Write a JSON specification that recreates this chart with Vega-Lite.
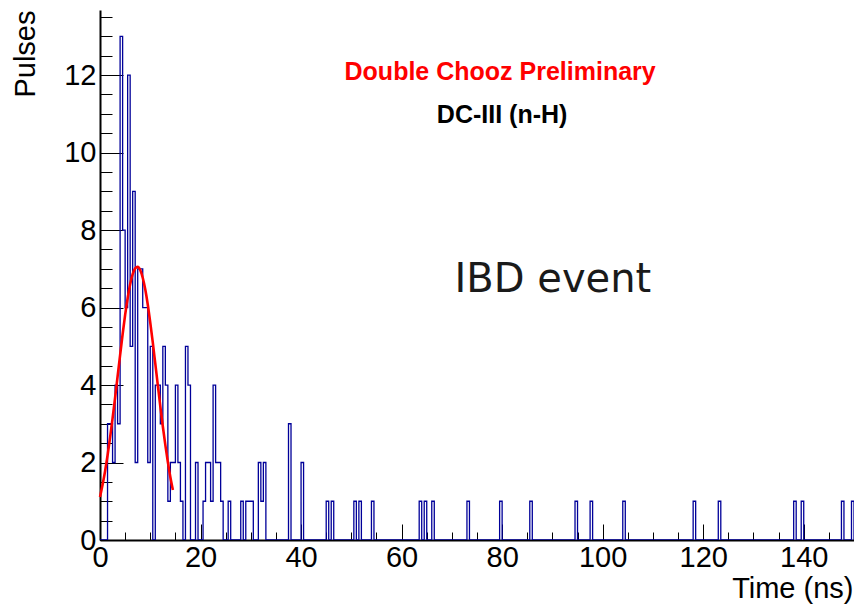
{
  "$schema": "https://vega.github.io/schema/vega-lite/v6.json",
  "width": 754,
  "height": 530,
  "autosize": {"type": "none"},
  "padding": {"left": 100, "top": 10, "right": 0, "bottom": 65},
  "background": "white",
  "config": {
    "view": {"stroke": null},
    "axis": {
      "grid": false,
      "labelFont": "Liberation Sans",
      "titleFont": "Liberation Sans",
      "labelColor": "black",
      "titleColor": "black",
      "domainColor": "black",
      "tickColor": "black",
      "tickWidth": 1,
      "titleFontWeight": "normal"
    }
  },
  "datasets": {
    "hist": [
      {"t":0,"n":0},{"t":0.5,"n":0},{"t":1,"n":0},{"t":1.5,"n":3},{"t":2,"n":3},{"t":2.5,"n":2},{"t":3,"n":4},{"t":3.5,"n":3},
      {"t":4,"n":13},{"t":4.5,"n":8},{"t":5,"n":6},{"t":5.5,"n":12},{"t":6,"n":5},{"t":6.5,"n":9},{"t":7,"n":2},{"t":7.5,"n":7},
      {"t":8,"n":7},{"t":8.5,"n":6},{"t":9,"n":6},{"t":9.5,"n":2},{"t":10,"n":5},{"t":10.5,"n":0},{"t":11,"n":4},{"t":11.5,"n":4},
      {"t":12,"n":3},{"t":12.5,"n":5},{"t":13,"n":4},{"t":13.5,"n":1},{"t":14,"n":2},{"t":14.5,"n":2},{"t":15,"n":4},{"t":15.5,"n":2},
      {"t":16,"n":1},{"t":16.5,"n":0},{"t":17,"n":5},{"t":17.5,"n":4},{"t":18,"n":0},{"t":18.5,"n":0},{"t":19,"n":2},{"t":19.5,"n":0},
      {"t":20,"n":0},{"t":20.5,"n":1},{"t":21,"n":2},{"t":21.5,"n":2},{"t":22,"n":1},{"t":22.5,"n":4},{"t":23,"n":2},{"t":23.5,"n":2},
      {"t":24,"n":1},{"t":24.5,"n":0},{"t":25,"n":0},{"t":25.5,"n":1},{"t":26,"n":0},{"t":26.5,"n":0},{"t":27,"n":0},{"t":27.5,"n":0},
      {"t":28,"n":1},{"t":28.5,"n":0},{"t":29,"n":1},{"t":29.5,"n":1},{"t":30,"n":1},{"t":30.5,"n":0},{"t":31,"n":0},{"t":31.5,"n":2},
      {"t":32,"n":1},{"t":32.5,"n":2},{"t":33,"n":0},{"t":33.5,"n":0},{"t":34,"n":0},{"t":34.5,"n":0},{"t":35,"n":0},{"t":35.5,"n":0},
      {"t":36,"n":0},{"t":36.5,"n":0},{"t":37,"n":0},{"t":37.5,"n":3},{"t":38,"n":0},{"t":38.5,"n":0},{"t":39,"n":0},{"t":39.5,"n":0},
      {"t":40,"n":2},{"t":40.5,"n":0},{"t":41,"n":0},{"t":41.5,"n":0},{"t":42,"n":0},{"t":42.5,"n":0},{"t":43,"n":0},{"t":43.5,"n":0},
      {"t":44,"n":0},{"t":44.5,"n":0},{"t":45,"n":1},{"t":45.5,"n":0},{"t":46,"n":1},{"t":46.5,"n":0},{"t":47,"n":0},{"t":47.5,"n":0},
      {"t":48,"n":0},{"t":48.5,"n":0},{"t":49,"n":0},{"t":49.5,"n":0},{"t":50,"n":0},{"t":50.5,"n":1},{"t":51,"n":0},{"t":51.5,"n":1},
      {"t":52,"n":0},{"t":52.5,"n":0},{"t":53,"n":0},{"t":53.5,"n":0},{"t":54,"n":1},{"t":54.5,"n":0},{"t":55,"n":0},{"t":55.5,"n":0},
      {"t":56,"n":0},{"t":56.5,"n":0},{"t":57,"n":0},{"t":57.5,"n":0},{"t":58,"n":0},{"t":58.5,"n":0},{"t":59,"n":0},{"t":59.5,"n":0},
      {"t":60,"n":0},{"t":60.5,"n":0},{"t":61,"n":0},{"t":61.5,"n":0},{"t":62,"n":0},{"t":62.5,"n":0},{"t":63,"n":0},{"t":63.5,"n":1},
      {"t":64,"n":0},{"t":64.5,"n":1},{"t":65,"n":0},{"t":65.5,"n":0},{"t":66,"n":1},{"t":66.5,"n":0},{"t":67,"n":0},{"t":67.5,"n":0},
      {"t":68,"n":0},{"t":68.5,"n":0},{"t":69,"n":0},{"t":69.5,"n":0},{"t":70,"n":0},{"t":70.5,"n":0},{"t":71,"n":0},{"t":71.5,"n":0},
      {"t":72,"n":0},{"t":72.5,"n":0},{"t":73,"n":1},{"t":73.5,"n":0},{"t":74,"n":0},{"t":74.5,"n":0},{"t":75,"n":0},{"t":75.5,"n":0},
      {"t":76,"n":0},{"t":76.5,"n":0},{"t":77,"n":0},{"t":77.5,"n":0},{"t":78,"n":0},{"t":78.5,"n":0},{"t":79,"n":0},{"t":79.5,"n":1},
      {"t":80,"n":0},{"t":80.5,"n":0},{"t":81,"n":0},{"t":81.5,"n":0},{"t":82,"n":0},{"t":82.5,"n":0},{"t":83,"n":0},{"t":83.5,"n":0},
      {"t":84,"n":0},{"t":84.5,"n":0},{"t":85,"n":0},{"t":85.5,"n":1},{"t":86,"n":0},{"t":86.5,"n":0},{"t":87,"n":0},{"t":87.5,"n":0},
      {"t":88,"n":0},{"t":88.5,"n":0},{"t":89,"n":0},{"t":89.5,"n":0},{"t":90,"n":0},{"t":90.5,"n":0},{"t":91,"n":0},{"t":91.5,"n":0},
      {"t":92,"n":0},{"t":92.5,"n":0},{"t":93,"n":0},{"t":93.5,"n":0},{"t":94,"n":0},{"t":94.5,"n":1},{"t":95,"n":0},{"t":95.5,"n":0},
      {"t":96,"n":0},{"t":96.5,"n":0},{"t":97,"n":0},{"t":97.5,"n":1},{"t":98,"n":0},{"t":98.5,"n":0},{"t":99,"n":0},{"t":99.5,"n":0},
      {"t":100,"n":0},{"t":100.5,"n":0},{"t":101,"n":0},{"t":101.5,"n":0},{"t":102,"n":0},{"t":102.5,"n":0},{"t":103,"n":0},{"t":103.5,"n":0},
      {"t":104,"n":1},{"t":104.5,"n":0},{"t":105,"n":0},{"t":105.5,"n":0},{"t":106,"n":0},{"t":106.5,"n":0},{"t":107,"n":0},{"t":107.5,"n":0},
      {"t":108,"n":0},{"t":108.5,"n":0},{"t":109,"n":0},{"t":109.5,"n":0},{"t":110,"n":0},{"t":110.5,"n":0},{"t":111,"n":0},{"t":111.5,"n":0},
      {"t":112,"n":0},{"t":112.5,"n":0},{"t":113,"n":0},{"t":113.5,"n":0},{"t":114,"n":0},{"t":114.5,"n":0},{"t":115,"n":0},{"t":115.5,"n":0},
      {"t":116,"n":0},{"t":116.5,"n":0},{"t":117,"n":0},{"t":117.5,"n":0},{"t":118,"n":1},{"t":118.5,"n":0},{"t":119,"n":0},{"t":119.5,"n":0},
      {"t":120,"n":0},{"t":120.5,"n":0},{"t":121,"n":0},{"t":121.5,"n":0},{"t":122,"n":0},{"t":122.5,"n":0},{"t":123,"n":1},{"t":123.5,"n":0},
      {"t":124,"n":0},{"t":124.5,"n":0},{"t":125,"n":0},{"t":125.5,"n":0},{"t":126,"n":0},{"t":126.5,"n":0},{"t":127,"n":0},{"t":127.5,"n":0},
      {"t":128,"n":0},{"t":128.5,"n":0},{"t":129,"n":0},{"t":129.5,"n":0},{"t":130,"n":0},{"t":130.5,"n":0},{"t":131,"n":0},{"t":131.5,"n":0},
      {"t":132,"n":0},{"t":132.5,"n":0},{"t":133,"n":0},{"t":133.5,"n":0},{"t":134,"n":0},{"t":134.5,"n":0},{"t":135,"n":0},{"t":135.5,"n":0},
      {"t":136,"n":0},{"t":136.5,"n":0},{"t":137,"n":0},{"t":137.5,"n":0},{"t":138,"n":1},{"t":138.5,"n":0},{"t":139,"n":0},{"t":139.5,"n":1},
      {"t":140,"n":0},{"t":140.5,"n":0},{"t":141,"n":0},{"t":141.5,"n":0},{"t":142,"n":0},{"t":142.5,"n":0},{"t":143,"n":0},{"t":143.5,"n":0},
      {"t":144,"n":0},{"t":144.5,"n":0},{"t":145,"n":0},{"t":145.5,"n":0},{"t":146,"n":0},{"t":146.5,"n":0},{"t":147,"n":0},{"t":147.5,"n":1},
      {"t":148,"n":0},{"t":148.5,"n":0},{"t":149,"n":0},{"t":149.5,"n":1},{"t":150,"n":0}
    ],
    "fit": [
      {"t":0,"f":1.11},{"t":0.5,"f":1.42},{"t":1,"f":1.77},{"t":1.5,"f":2.18},{"t":2,"f":2.64},{"t":2.5,"f":3.14},
      {"t":3,"f":3.67},{"t":3.5,"f":4.22},{"t":4,"f":4.77},{"t":4.5,"f":5.31},{"t":5,"f":5.81},{"t":5.5,"f":6.24},
      {"t":6,"f":6.6},{"t":6.5,"f":6.86},{"t":7,"f":7.01},{"t":7.5,"f":7.05},{"t":8,"f":6.97},{"t":8.5,"f":6.77},
      {"t":9,"f":6.47},{"t":9.5,"f":6.08},{"t":10,"f":5.61},{"t":10.5,"f":5.1},{"t":11,"f":4.55},{"t":11.5,"f":4.0},
      {"t":12,"f":3.45},{"t":12.5,"f":2.93},{"t":13,"f":2.45},{"t":13.5,"f":2.01},{"t":14,"f":1.62},{"t":14.5,"f":1.29}
    ]
  },
  "resolve": {"axis": {"x": "independent", "y": "independent"}},
  "layer": [
    {
      "data": {"name": "hist"},
      "mark": {"type": "line", "interpolate": "step-after", "color": "#000099", "strokeWidth": 1.3, "clip": true},
      "encoding": {
        "x": {
          "field": "t", "type": "quantitative",
          "scale": {"domain": [0, 150], "nice": false, "zero": false},
          "axis": {
            "orient": "bottom", "values": [0, 20, 40, 60, 80, 100, 120, 140],
            "ticks": false, "domainWidth": 2, "labelFontSize": 29, "labelPadding": 3,
            "labelFlush": false, "labelOverlap": false,
            "title": "Time (ns)", "titleFontSize": 29, "titleAnchor": "end", "titleAlign": "right",
            "titleBaseline": "alphabetic", "titleX": 753, "titleY": 57
          }
        },
        "y": {
          "field": "n", "type": "quantitative",
          "scale": {"domain": [0, 13.68], "nice": false, "zero": true},
          "axis": {
            "orient": "left", "values": [0, 2, 4, 6, 8, 10, 12],
            "ticks": false, "domainWidth": 2, "labelFontSize": 29, "labelPadding": 4,
            "labelFlush": false, "labelOverlap": false,
            "title": "Pulses", "titleFontSize": 29, "titleAngle": 270, "titleAlign": "right",
            "titleBaseline": "alphabetic", "titleX": -66, "titleY": 0
          }
        }
      }
    },
    {
      "data": {"name": "fit"},
      "mark": {"type": "line", "interpolate": "monotone", "color": "#ff0000", "strokeWidth": 2.6},
      "encoding": {
        "x": {
          "field": "t", "type": "quantitative",
          "axis": {
            "orient": "bottom", "values": [0,5,10,15,20,25,30,35,40,45,50,55,60,65,70,75,80,85,90,95,100,105,110,115,120,125,130,135,140,145,150],
            "labels": false, "domain": false, "tickSize": -8, "title": null
          }
        },
        "y": {
          "field": "f", "type": "quantitative",
          "axis": {
            "orient": "left", "values": [0,0.5,1,1.5,2,2.5,3,3.5,4,4.5,5,5.5,6,6.5,7,7.5,8,8.5,9,9.5,10,10.5,11,11.5,12,12.5,13,13.5],
            "labels": false, "domain": false, "tickSize": -12, "title": null
          }
        }
      }
    },
    {
      "data": {"values": [{"x": 79.6, "y": 11.87, "label": "Double Chooz Preliminary"}]},
      "mark": {"type": "text", "align": "center", "baseline": "alphabetic", "font": "Liberation Sans", "fontWeight": "bold", "fontSize": 25, "color": "#ff0000"},
      "encoding": {
        "x": {
          "field": "x", "type": "quantitative",
          "axis": {"orient": "bottom", "values": [0, 20, 40, 60, 80, 100, 120, 140], "labels": false, "domain": false, "tickSize": -16, "title": null}
        },
        "y": {
          "field": "y", "type": "quantitative",
          "axis": {"orient": "left", "values": [0, 2, 4, 6, 8, 10, 12], "labels": false, "domain": false, "tickSize": -23, "title": null}
        },
        "text": {"field": "label"}
      }
    },
    {
      "data": {"values": [{"x": 80.0, "y": 10.77, "label": "DC-III (n-H)"}]},
      "mark": {"type": "text", "align": "center", "baseline": "alphabetic", "font": "Liberation Sans", "fontWeight": "bold", "fontSize": 25, "color": "black"},
      "encoding": {
        "x": {"field": "x", "type": "quantitative", "axis": null},
        "y": {"field": "y", "type": "quantitative", "axis": null},
        "text": {"field": "label"}
      }
    },
    {
      "data": {"values": [{"x": 90.1, "y": 6.4, "label": "IBD event"}]},
      "mark": {"type": "text", "align": "center", "baseline": "alphabetic", "font": "DejaVu Sans", "fontSize": 40, "color": "#1a1a1a"},
      "encoding": {
        "x": {"field": "x", "type": "quantitative", "axis": null},
        "y": {"field": "y", "type": "quantitative", "axis": null},
        "text": {"field": "label"}
      }
    }
  ]
}
